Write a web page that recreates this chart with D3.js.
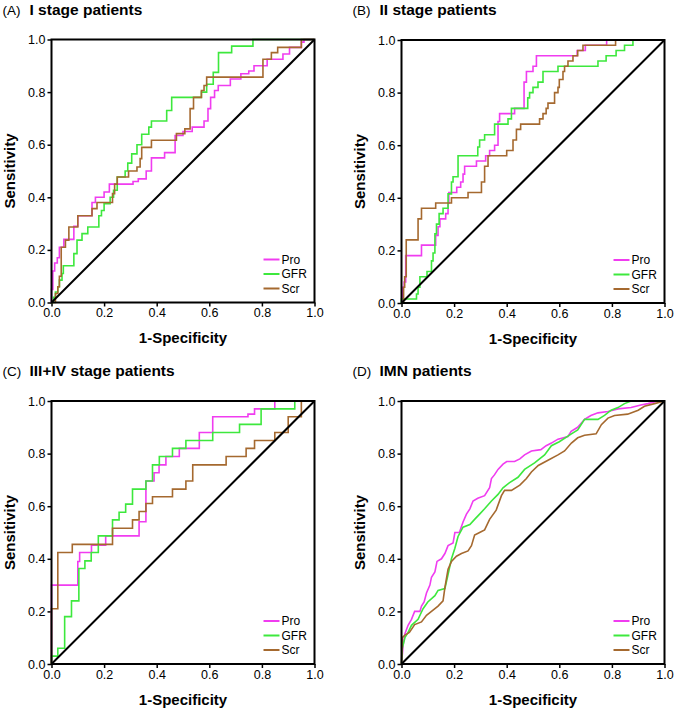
<!DOCTYPE html>
<html><head><meta charset="utf-8">
<script src="https://cdn.jsdelivr.net/npm/d3@7"></script>
<style>body{margin:0;background:#fff} svg{display:block}</style>
</head><body>
<svg id="c" width="676" height="710"></svg>
<script>
const tickValues = [0, 0.2, 0.4, 0.6, 0.8, 1.0];
const tickLabels = ["0.0", "0.2", "0.4", "0.6", "0.8", "1.0"];
const seriesNames = ["Pro", "GFR", "Scr"];
const seriesColors = ["#f03cf0", "#3de83d", "#a5692f"];
const panelLetters = ["(A)", "(B)", "(C)", "(D)"];
const panelTitles = ["I stage patients", "II stage patients", "III+IV stage patients", "IMN patients"];
const xTitle = "1-Specificity";
const yTitle = "Sensitivity";

// ROC points [1-specificity, sensitivity]
const A_Pro = [[0,0],[0,0.05],[0.005,0.12],[0.012,0.15],[0.022,0.17],[0.03,0.21],[0.047,0.24],[0.085,0.29],[0.1,0.33],[0.154,0.38],[0.167,0.40],[0.2,0.42],[0.22,0.45],[0.31,0.46],[0.33,0.47],[0.36,0.50],[0.38,0.55],[0.43,0.57],[0.47,0.635],[0.5,0.65],[0.535,0.667],[0.58,0.69],[0.595,0.737],[0.605,0.78],[0.62,0.806],[0.634,0.825],[0.68,0.85],[0.72,0.87],[0.75,0.88],[0.77,0.90],[0.82,0.925],[0.88,0.945],[0.905,0.97],[0.95,0.99],[0.96,1.0],[1,1]];
const A_GFR = [[0,0],[0.008,0.02],[0.015,0.04],[0.024,0.06],[0.03,0.085],[0.04,0.11],[0.045,0.14],[0.085,0.186],[0.097,0.237],[0.116,0.262],[0.138,0.287],[0.18,0.33],[0.19,0.35],[0.2,0.376],[0.223,0.40],[0.236,0.427],[0.25,0.477],[0.28,0.50],[0.29,0.53],[0.305,0.565],[0.325,0.60],[0.343,0.64],[0.37,0.667],[0.38,0.69],[0.438,0.73],[0.457,0.78],[0.57,0.80],[0.59,0.83],[0.615,0.875],[0.635,0.95],[0.685,0.975],[0.766,1.0],[1,1]];
const A_Scr = [[0,0],[0.015,0.034],[0.024,0.06],[0.03,0.1],[0.037,0.21],[0.053,0.237],[0.066,0.287],[0.1,0.33],[0.154,0.357],[0.173,0.38],[0.232,0.414],[0.24,0.45],[0.25,0.477],[0.293,0.50],[0.325,0.515],[0.337,0.547],[0.343,0.59],[0.38,0.617],[0.475,0.642],[0.507,0.66],[0.527,0.737],[0.54,0.78],[0.57,0.806],[0.58,0.825],[0.59,0.857],[0.804,0.925],[0.836,0.95],[0.86,0.97],[0.95,1.0],[1,1]];

const B_Pro = [[0,0],[0.005,0.06],[0.01,0.08],[0.016,0.18],[0.076,0.22],[0.13,0.257],[0.139,0.29],[0.146,0.32],[0.168,0.34],[0.177,0.38],[0.18,0.42],[0.21,0.44],[0.225,0.46],[0.234,0.49],[0.24,0.52],[0.285,0.54],[0.32,0.56],[0.335,0.58],[0.354,0.60],[0.367,0.69],[0.373,0.72],[0.43,0.74],[0.466,0.84],[0.475,0.88],[0.5,0.90],[0.513,0.94],[0.668,0.96],[0.699,0.98],[0.78,1.0],[1,1]];
const B_GFR = [[0,0],[0,0.015],[0.057,0.034],[0.063,0.06],[0.07,0.1],[0.097,0.12],[0.114,0.16],[0.12,0.19],[0.127,0.263],[0.133,0.30],[0.143,0.34],[0.158,0.36],[0.177,0.415],[0.19,0.46],[0.196,0.48],[0.215,0.56],[0.29,0.593],[0.297,0.62],[0.316,0.64],[0.354,0.68],[0.405,0.70],[0.418,0.74],[0.48,0.78],[0.487,0.80],[0.5,0.82],[0.519,0.84],[0.538,0.88],[0.595,0.90],[0.747,0.92],[0.778,0.94],[0.816,0.96],[0.848,0.98],[0.88,1.0],[1,1]];
const B_Scr = [[0,0],[0.008,0.06],[0.012,0.1],[0.018,0.24],[0.063,0.32],[0.076,0.36],[0.13,0.38],[0.19,0.40],[0.253,0.42],[0.304,0.46],[0.316,0.52],[0.329,0.56],[0.40,0.58],[0.424,0.62],[0.437,0.66],[0.453,0.68],[0.525,0.70],[0.538,0.72],[0.55,0.74],[0.557,0.76],[0.582,0.80],[0.595,0.82],[0.6,0.85],[0.614,0.88],[0.62,0.90],[0.633,0.92],[0.652,0.94],[0.67,0.96],[0.69,0.98],[0.814,1.0],[1,1]];

const C_Pro = [[0,0],[0,0.30],[0.1,0.39],[0.107,0.424],[0.152,0.452],[0.206,0.487],[0.333,0.541],[0.359,0.696],[0.39,0.727],[0.409,0.757],[0.435,0.789],[0.486,0.82],[0.562,0.88],[0.613,0.94],[0.747,0.95],[0.772,0.97],[0.849,1.0],[1,1]];
const C_GFR = [[0,0],[0,0.03],[0.024,0.06],[0.05,0.18],[0.076,0.24],[0.104,0.363],[0.127,0.392],[0.151,0.424],[0.178,0.487],[0.232,0.548],[0.257,0.577],[0.282,0.608],[0.308,0.665],[0.359,0.696],[0.384,0.757],[0.41,0.789],[0.46,0.82],[0.511,0.85],[0.613,0.88],[0.715,0.911],[0.797,0.97],[0.925,1.0],[1,1]];
const C_Scr = [[0,0],[0,0.21],[0.024,0.424],[0.079,0.455],[0.232,0.516],[0.308,0.548],[0.333,0.58],[0.359,0.61],[0.384,0.636],[0.46,0.665],[0.511,0.696],[0.537,0.757],[0.664,0.789],[0.74,0.82],[0.772,0.85],[0.849,0.88],[0.9,0.94],[0.95,1.0],[1,1]];

const D_Pro = [[0,0],[0.006,0.07],[0.013,0.115],[0.025,0.147],[0.038,0.17],[0.05,0.2],[0.07,0.2],[0.076,0.22],[0.086,0.236],[0.095,0.27],[0.108,0.3],[0.114,0.33],[0.127,0.35],[0.135,0.39],[0.152,0.4],[0.165,0.42],[0.177,0.45],[0.196,0.46],[0.203,0.5],[0.22,0.5],[0.234,0.54],[0.247,0.57],[0.26,0.59],[0.272,0.62],[0.29,0.63],[0.316,0.64],[0.335,0.67],[0.342,0.705],[0.354,0.72],[0.367,0.74],[0.386,0.76],[0.4,0.77],[0.43,0.77],[0.45,0.78],[0.468,0.795],[0.494,0.81],[0.53,0.815],[0.55,0.83],[0.57,0.84],[0.595,0.855],[0.633,0.865],[0.645,0.885],[0.67,0.9],[0.696,0.93],[0.72,0.945],[0.747,0.955],[0.785,0.96],[0.823,0.97],[0.873,0.975],[0.91,0.985],[0.937,0.99],[0.975,1.0],[1,1]];
const D_GFR = [[0,0],[0.003,0.06],[0.013,0.1],[0.025,0.12],[0.038,0.147],[0.063,0.17],[0.082,0.21],[0.1,0.236],[0.127,0.26],[0.139,0.28],[0.165,0.287],[0.177,0.34],[0.19,0.4],[0.203,0.44],[0.215,0.485],[0.234,0.52],[0.26,0.53],[0.278,0.55],[0.297,0.57],[0.316,0.59],[0.342,0.62],[0.367,0.645],[0.386,0.67],[0.411,0.69],[0.443,0.71],[0.468,0.74],[0.506,0.765],[0.544,0.795],[0.57,0.83],[0.6,0.845],[0.646,0.875],[0.67,0.89],[0.696,0.93],[0.747,0.93],[0.772,0.945],[0.797,0.965],[0.823,0.975],[0.848,0.99],[0.873,1.0],[1,1]];
const D_Scr = [[0,0],[0.003,0.1],[0.013,0.11],[0.03,0.12],[0.05,0.15],[0.076,0.16],[0.095,0.185],[0.114,0.2],[0.139,0.22],[0.158,0.24],[0.165,0.29],[0.177,0.36],[0.19,0.39],[0.209,0.41],[0.228,0.42],[0.253,0.43],[0.266,0.45],[0.278,0.49],[0.297,0.5],[0.316,0.51],[0.335,0.55],[0.36,0.585],[0.38,0.64],[0.392,0.66],[0.418,0.66],[0.45,0.68],[0.475,0.705],[0.494,0.73],[0.52,0.755],[0.557,0.775],[0.595,0.795],[0.62,0.81],[0.646,0.84],[0.67,0.86],[0.696,0.87],[0.74,0.875],[0.76,0.91],[0.785,0.935],[0.81,0.945],[0.86,0.95],[0.9,0.965],[0.924,0.98],[0.962,0.99],[1,1]];

const panelSeries = [[A_Pro, A_GFR, A_Scr], [B_Pro, B_GFR, B_Scr], [C_Pro, C_GFR, C_Scr], [D_Pro, D_GFR, D_Scr]];
const panelStepped = [true, true, true, false];

// layout
const panelLayout = [{left: 51.5, top: 39.5}, {left: 401.5, top: 40}, {left: 51.5, top: 401}, {left: 401.5, top: 401}];
const plotW = 263, plotH = 263;
const FONT = "'Liberation Sans', Arial, Helvetica, sans-serif";

const svg = d3.select("#c");

panelLayout.forEach((pl, i) => {
  const g = svg.append("g").attr("transform", `translate(${pl.left},${pl.top})`);
  const x = d3.scaleLinear().domain([0, 1]).range([0, plotW]);
  const y = d3.scaleLinear().domain([0, 1]).range([plotH, 0]);

  // titles
  svg.append("text").attr("x", pl.left - 49).attr("y", pl.top - 25)
    .attr("font-family", FONT).attr("font-size", 13.5).text(panelLetters[i]);
  svg.append("text").attr("x", pl.left - 22).attr("y", pl.top - 25)
    .attr("font-family", FONT).attr("font-size", 15.5).attr("font-weight", "bold").text(panelTitles[i]);

  // axes
  const xAxis = d3.axisBottom(x).tickValues(tickValues).tickFormat((d, k) => tickLabels[k]).tickSize(4).tickPadding(2);
  const yAxis = d3.axisLeft(y).tickValues(tickValues).tickFormat((d, k) => tickLabels[k]).tickSize(4).tickPadding(2);
  const gx = g.append("g").attr("transform", `translate(0,${plotH})`).call(xAxis);
  const gy = g.append("g").call(yAxis);
  [gx, gy].forEach(a => {
    a.select(".domain").remove();
    a.selectAll(".tick line").attr("stroke", "#000").attr("stroke-width", 1.5);
    a.selectAll(".tick text").attr("font-family", FONT).attr("font-size", 12.5).attr("fill", "#000");
  });

  // curves
  const line = d3.line().x(d => x(d[0])).y(d => y(d[1]))
    .curve(panelStepped[i] ? d3.curveStepAfter : d3.curveLinear);
  panelSeries[i].forEach((s, k) => {
    g.append("path").datum(s).attr("d", line).attr("fill", "none")
      .attr("stroke", seriesColors[k]).attr("stroke-width", 1.6);
  });

  // reference diagonal
  g.append("line").attr("x1", x(0)).attr("y1", y(0)).attr("x2", x(1)).attr("y2", y(1))
    .attr("stroke", "#000").attr("stroke-width", 2);

  // frame
  g.append("rect").attr("x", 0).attr("y", 0).attr("width", plotW).attr("height", plotH)
    .attr("fill", "none").attr("stroke", "#000").attr("stroke-width", 2);

  // axis titles
  g.append("text").attr("x", plotW / 2).attr("y", plotH + 40.5).attr("text-anchor", "middle")
    .attr("font-family", FONT).attr("font-size", 15).attr("font-weight", "bold").text(xTitle);
  g.append("text").attr("transform", `translate(-36.5,${plotH / 2}) rotate(-90)`).attr("text-anchor", "middle")
    .attr("font-family", FONT).attr("font-size", 15).attr("font-weight", "bold").text(yTitle);

  // legend
  const lg = g.append("g").attr("transform", `translate(${plotW - 51},${plotH - 43})`);
  seriesNames.forEach((n, k) => {
    lg.append("line").attr("x1", 0).attr("x2", 16).attr("y1", k * 14.5).attr("y2", k * 14.5)
      .attr("stroke", seriesColors[k]).attr("stroke-width", 2);
    lg.append("text").attr("x", 18).attr("y", k * 14.5 + 4.3)
      .attr("font-family", FONT).attr("font-size", 12).text(n);
  });
});
</script>
</body></html>
